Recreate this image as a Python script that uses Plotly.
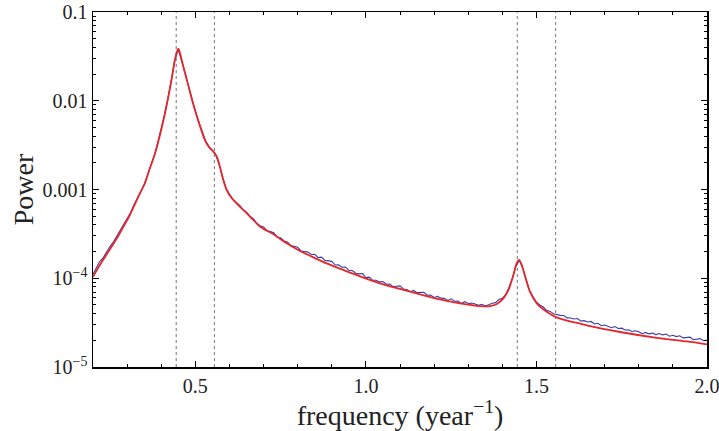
import plotly.graph_objects as go

# ---------------- data ----------------
# smooth (red) model spectrum
model_freq = [0.200, 0.220, 0.245, 0.270, 0.289, 0.308, 0.333, 0.352, 0.365, 0.382,
              0.401, 0.416, 0.431, 0.440, 0.448, 0.451, 0.455, 0.465, 0.479, 0.494,
              0.509, 0.528, 0.543, 0.553, 0.563, 0.572, 0.582, 0.592, 0.607, 0.626,
              0.646, 0.665, 0.690, 0.729, 0.768, 0.807, 0.846, 0.885, 0.934, 0.983,
              1.041, 1.100, 1.159, 1.217, 1.276, 1.335, 1.364, 1.384, 1.403, 1.418,
              1.431, 1.442, 1.449, 1.457, 1.467, 1.481, 1.501, 1.530, 1.559, 1.598,
              1.628, 1.657, 1.745, 1.843, 1.941, 2.000]
model_power = [1.04e-4, 1.41e-4, 1.99e-4, 2.82e-4, 3.81e-4, 5.16e-4, 8.30e-4, 1.175e-3, 1.66e-3, 2.56e-3,
               4.90e-3, 8.95e-3, 1.79e-2, 2.88e-2, 3.73e-2, 3.83e-2, 3.43e-2, 2.42e-2, 1.51e-2, 9.12e-3,
               5.89e-3, 3.61e-3, 2.91e-3, 2.67e-3, 2.34e-3, 1.81e-3, 1.28e-3, 9.86e-4, 7.96e-4, 6.68e-4,
               5.62e-4, 4.74e-4, 3.81e-4, 3.13e-4, 2.48e-4, 2.03e-4, 1.72e-4, 1.47e-4, 1.24e-4, 1.05e-4,
               8.77e-5, 7.57e-5, 6.59e-5, 5.79e-5, 5.22e-5, 4.86e-5, 4.86e-5, 5.13e-5, 5.94e-5, 7.38e-5,
               1.04e-4, 1.47e-4, 1.61e-4, 1.41e-4, 1.04e-4, 7.06e-5, 5.22e-5, 4.20e-5, 3.63e-5, 3.27e-5,
               3.09e-5, 2.88e-5, 2.48e-5, 2.16e-5, 1.94e-5, 1.80e-5]

# noisy (blue) measured spectrum, one value every 0.01 from 0.20 to 2.00
data_freq = [round(0.20 + 0.01 * i, 2) for i in range(181)]
data_power = [
    1.11e-4, 1.31e-4, 1.55e-4, 1.71e-4, 2.01e-4, 2.29e-4, 2.57e-4, 2.99e-4, 3.54e-4, 4.01e-4,   # 0.20-0.29
    4.75e-4, 5.48e-4, 6.71e-4, 7.92e-4, 9.44e-4, 1.132e-3, 1.46e-3, 1.88e-3, 2.42e-3, 3.37e-3,  # 0.30-0.39
    4.78e-3, 7.03e-3, 1.076e-2, 1.71e-2, 2.88e-2, 3.80e-2, 2.88e-2, 2.05e-2, 1.46e-2, 1.045e-2,  # 0.40-0.49
    7.66e-3, 5.79e-3, 4.44e-3, 3.55e-3, 3.04e-3, 2.77e-3, 2.44e-3, 1.91e-3, 1.37e-3, 1.04e-3,   # 0.50-0.59
    8.87e-4, 7.74e-4, 7.14e-4, 6.61e-4, 5.93e-4, 5.56e-4, 5.01e-4, 4.70e-4, 4.16e-4, 3.90e-4,   # 0.60-0.69
    3.78e-4, 3.43e-4, 3.35e-4, 3.25e-4, 2.90e-4, 2.86e-4, 2.63e-4, 2.57e-4, 2.33e-4, 2.29e-4,   # 0.70-0.79
    2.23e-4, 2.03e-4, 1.99e-4, 1.97e-4, 1.85e-4, 1.86e-4, 1.71e-4, 1.73e-4, 1.59e-4, 1.57e-4,   # 0.80-0.89
    1.55e-4, 1.41e-4, 1.42e-4, 1.33e-4, 1.34e-4, 1.23e-4, 1.22e-4, 1.14e-4, 1.12e-4, 1.13e-4,   # 0.90-0.99
    1.02e-4, 1.03e-4, 9.48e-5, 9.51e-5, 9.10e-5, 9.18e-5, 8.55e-5, 8.58e-5, 8.05e-5, 8.13e-5,   # 1.00-1.09
    8.20e-5, 7.57e-5, 7.48e-5, 7.06e-5, 7.29e-5, 6.89e-5, 6.92e-5, 6.95e-5, 6.44e-5, 6.47e-5,   # 1.10-1.19
    6.08e-5, 6.24e-5, 5.97e-5, 5.93e-5, 5.62e-5, 5.86e-5, 5.50e-5, 5.53e-5, 5.20e-5, 5.45e-5,   # 1.20-1.29
    5.19e-5, 5.25e-5, 5.13e-5, 4.95e-5, 5.09e-5, 4.86e-5, 5.04e-5, 5.24e-5, 5.31e-5, 5.75e-5,   # 1.30-1.39
    5.94e-5, 6.58e-5, 7.98e-5, 1.016e-4, 1.38e-4, 1.585e-4, 1.29e-4, 9.59e-5, 7.26e-5, 6.17e-5,  # 1.40-1.49
    5.36e-5, 4.99e-5, 4.74e-5, 4.35e-5, 4.23e-5, 3.98e-5, 3.88e-5, 3.82e-5, 3.81e-5, 3.58e-5,   # 1.50-1.59
    3.57e-5, 3.47e-5, 3.52e-5, 3.30e-5, 3.33e-5, 3.21e-5, 3.26e-5, 3.05e-5, 3.11e-5, 2.92e-5,   # 1.60-1.69
    2.97e-5, 2.89e-5, 2.77e-5, 2.86e-5, 2.72e-5, 2.74e-5, 2.61e-5, 2.63e-5, 2.51e-5, 2.56e-5,   # 1.70-1.79
    2.49e-5, 2.37e-5, 2.45e-5, 2.36e-5, 2.41e-5, 2.32e-5, 2.38e-5, 2.30e-5, 2.35e-5, 2.22e-5,   # 1.80-1.89
    2.28e-5, 2.20e-5, 2.25e-5, 2.13e-5, 2.15e-5, 2.17e-5, 2.03e-5, 2.07e-5, 2.09e-5, 1.98e-5,   # 1.90-1.99
    2.00e-5,                                                                                   # 2.00
]

# dashed reference frequencies
marker_freqs = [0.444, 0.556, 1.444, 1.556]

x_tick_vals = [0.5, 1.0, 1.5, 2.0]
x_tick_text = ["0.5", "1.0", "1.5", "2.0"]
y_tick_vals = [1e-5, 1e-4, 1e-3, 1e-2, 1e-1]
y_tick_text = ["10<sup>−5</sup>", "10<sup>−4</sup>", "0.001", "0.01", "0.1"]
y_minor_vals = [m * d for d in [1e-5, 1e-4, 1e-3, 1e-2] for m in range(2, 10)]

# ---------------- figure ----------------
SERIF = "Liberation Serif, Times New Roman, serif"

fig = go.Figure()
fig.add_trace(go.Scatter(x=data_freq, y=data_power, mode="lines",
                         line=dict(color="#3A3DA6", width=1.1), hoverinfo="skip"))
fig.add_trace(go.Scatter(x=model_freq, y=model_power, mode="lines",
                         line=dict(color="#E5262A", width=1.8, shape="spline", smoothing=0.8),
                         hoverinfo="skip"))

for f in marker_freqs:
    fig.add_shape(type="line", xref="x", yref="paper", x0=f, x1=f, y0=0, y1=1,
                  line=dict(color="#8C8C8C", width=1.2, dash="3px,3px"), layer="below")

fig.update_layout(
    width=719, height=431,
    margin=dict(l=93, r=12, t=12, b=64),
    paper_bgcolor="white", plot_bgcolor="white",
    showlegend=False,
    font=dict(family=SERIF, color="black"),
)
fig.update_xaxes(
    range=[0.2, 2.0], tickmode="array", tickvals=x_tick_vals, ticktext=x_tick_text,
    ticks="inside", ticklen=6, tickwidth=1, tickcolor="black",
    minor=dict(tickmode="linear", tick0=0, dtick=0.1, ticks="inside", ticklen=3, tickcolor="black"),
    showline=True, linecolor="black", linewidth=1.5, mirror="ticks",
    showgrid=False, zeroline=False, automargin=False, ticklabeloverflow="allow",
    tickfont=dict(family=SERIF, size=20, color="#222"),
    title=dict(text="frequency (year<sup>−1</sup>)", font=dict(family=SERIF, size=28, color="#222"), standoff=4),
)
fig.update_yaxes(
    type="log", range=[-5, -1], tickmode="array", tickvals=y_tick_vals, ticktext=y_tick_text,
    ticks="inside", ticklen=6, tickwidth=1, tickcolor="black",
    minor=dict(tickmode="array", tickvals=y_minor_vals, ticks="inside", ticklen=3, tickcolor="black"),
    showline=True, linecolor="black", linewidth=1.5, mirror="ticks",
    showgrid=False, zeroline=False, automargin=False, ticklabeloverflow="allow",
    tickfont=dict(family=SERIF, size=20, color="#222"),
    title=dict(text="Power", font=dict(family=SERIF, size=28, color="#222"), standoff=0),
)

# remove the browser's default page margin so the figure fills the window exactly
fig.write_html("out.html",
               config={"displayModeBar": False, "staticPlot": True},
               post_script="document.body.style.margin='0';document.body.style.overflow='hidden';")
